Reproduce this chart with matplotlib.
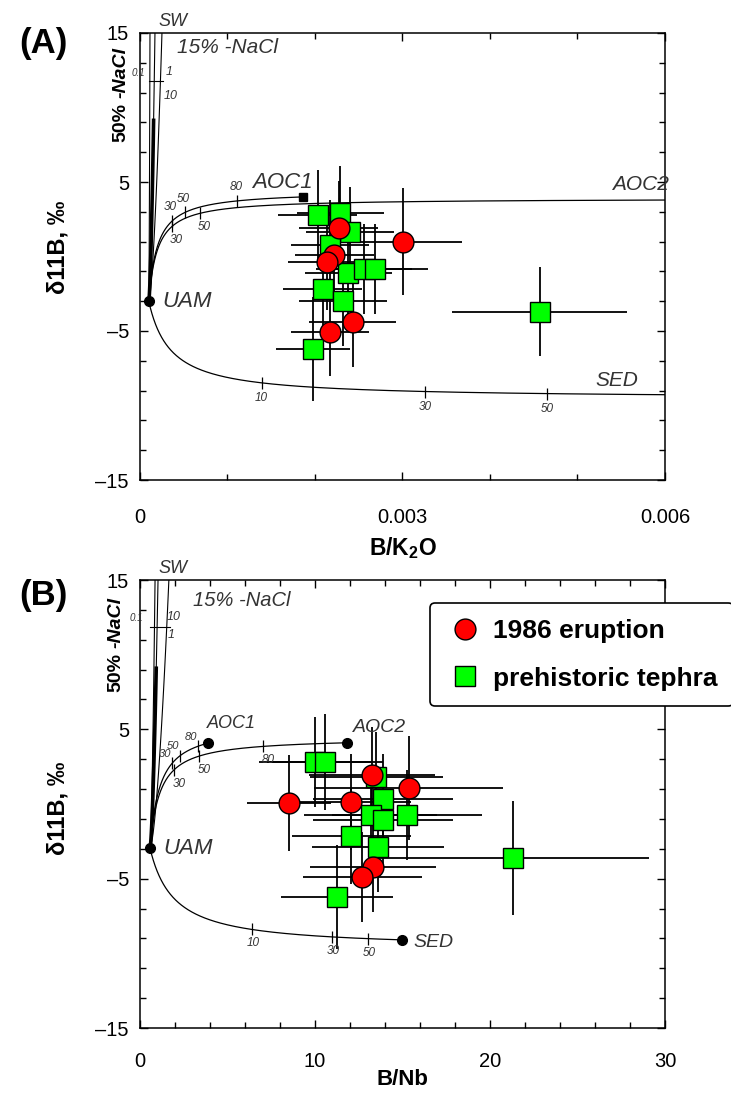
import numpy as np
import matplotlib
matplotlib.use('Agg')
from matplotlib import pyplot as plt
from matplotlib.ticker import FixedLocator, FixedFormatter

plt.rcParams['font.family'] = ['Liberation Sans', 'DejaVu Sans']
plt.rcParams['mathtext.fontset'] = 'custom'
plt.rcParams['mathtext.rm'] = 'Liberation Sans'
plt.rcParams['xtick.direction'] = 'in'
plt.rcParams['ytick.direction'] = 'in'

# ---------------- data ----------------
# panel A : B/K2O
eru_x_a = [0.00227, 0.00301, 0.00222, 0.00214, 0.00243, 0.00217]
eru_y_a = [1.9, 1.0, 0.1, -0.4, -4.4, -5.05]
eru_xe_a = [0.00045, 0.00067, 0.00045, 0.00045, 0.0005, 0.00045]
eru_ye_a = [3.2, 3.6, 3.2, 3.2, 3.0, 3.0]

pre_x_a = [0.00203, 0.00229, 0.0024, 0.00217, 0.00238, 0.00256, 0.00269,
           0.00209, 0.00232, 0.00198, 0.00457]
pre_y_a = [2.8, 2.9, 1.65, 0.8, -1.1, -0.85, -0.85, -2.2, -3.0, -6.2, -3.7]
pre_xe_a = [0.00045, 0.0005, 0.0005, 0.00045, 0.0005, 0.00055, 0.0006,
            0.00045, 0.0005, 0.00042, 0.001]
pre_ye_a = [3.0, 3.2, 3.0, 3.0, 3.0, 3.0, 3.0, 3.2, 3.0, 3.5, 3.0]

# end-members panel A (x, d11B)
uam_a = (0.0001, -3.0)
aoc1_a = (0.00186, 4.0)
aoc2_a = (0.0066, 3.8)
sed_a = (0.0066, -9.3)
sed_shift_a = 0.00015
fluid_top_a = [0.000114, 0.000171, 0.000251]
aoc1_tx_a = [0.000366, 0.000514, 0.00111]
aoc2_tx_a = [0.000366, 0.000686, 0.00227]
sed_tx_a = [0.00139, 0.00326, 0.00465]

# panel B : B/Nb
eru_x_b = [13.26, 15.37, 12.06, 8.51, 13.31, 12.69]
eru_y_b = [1.94, 1.07, 0.13, 0.06, -4.22, -4.89]
eru_xe_b = [3.6, 5.4, 3.4, 2.4, 3.6, 3.4]
eru_ye_b = [3.2, 3.5, 3.2, 3.2, 3.0, 3.0]

pre_x_b = [10.0, 10.57, 13.49, 13.89, 13.2, 13.89, 15.26, 12.06, 13.6, 11.26, 21.3]
pre_y_b = [2.8, 2.8, 1.8, 0.33, -0.74, -1.07, -0.74, -2.15, -2.88, -6.23, -3.62]
pre_xe_b = [3.2, 3.3, 3.8, 4.0, 3.8, 4.0, 4.3, 3.4, 3.8, 3.2, 7.8]
pre_ye_b = [3.0, 3.2, 3.0, 3.0, 3.0, 3.0, 3.0, 3.2, 3.0, 3.5, 3.8]

uam_b = (0.57, -2.95)
aoc1_b = (3.9, 4.08)
aoc2_b = (11.8, 4.1)
sed_b = (15.0, -9.1)
sed_shift_b = 0.8
fluid_top_b = [0.86, 1.03, 1.65]
aoc1_tx_b = [1.83, 2.29, 3.31]
aoc2_tx_b = [1.94, 3.37, 7.03]
sed_tx_b = [6.4, 10.97, 13.03]

aoc_labels = ['30', '50', '80']
sed_labels = ['10', '30', '50']

GREY = '#333333'


def mix(p, q, s=0.0, n=400):
    # mixing hyperbola between two end-members: d11B linear in 1/(x+s)
    c = (p[1] - q[1]) / (1.0 / (p[0] + s) - 1.0 / (q[0] + s))
    a = q[1] - c / (q[0] + s)
    x = np.geomspace(p[0], q[0], n)
    return x, a + c / (x + s), (a, c, s)


def curve_ticks(ax, coef, xs, labels, dx, dy, fs=8.5):
    a, c, s = coef
    xs = np.array(xs)
    ys = a + c / (xs + s)
    ax.plot(xs, ys, ls='none', marker='|', ms=8, mew=0.9, color='k', zorder=1)
    for x, y, t in zip(xs, ys, labels):
        ax.annotate(t, (x, y), xytext=(dx, dy), textcoords='offset points',
                    ha='center', va='center', fontsize=fs, style='italic', color=GREY)


def setup(ax, xmax, xmajor, xminor, xlabels, xpad):
    ax.set_xlim(0, xmax)
    ax.set_ylim(-15, 15)
    ax.xaxis.set_major_locator(FixedLocator(xmajor))
    ax.xaxis.set_major_formatter(FixedFormatter(xlabels))
    ax.xaxis.set_minor_locator(FixedLocator(xminor))
    ax.yaxis.set_major_locator(FixedLocator([-15, -5, 5, 15]))
    ax.yaxis.set_major_formatter(FixedFormatter(['\u201315', '\u20135', '5', '15']))
    ax.yaxis.set_minor_locator(FixedLocator(np.arange(-15, 16, 2)))
    ax.tick_params(which='both', top=True, right=True, width=1.0)
    ax.tick_params(which='major', length=6, labelsize=14.5)
    ax.tick_params(which='minor', length=4)
    ax.tick_params(axis='x', pad=xpad)
    ax.tick_params(axis='y', pad=8)
    for sp in ax.spines.values():
        sp.set_linewidth(1.1)
    ax.set_ylabel('\u03b411B, \u2030', fontsize=17, fontweight='bold')


def data(ax, ex, ey, exe, eye, px, py, pxe, pye):
    ax.errorbar(px, py, xerr=pxe, yerr=pye, fmt='none', ecolor='k', elinewidth=1.3, zorder=2)
    ax.errorbar(ex, ey, xerr=exe, yerr=eye, fmt='none', ecolor='k', elinewidth=1.3, zorder=2)
    h2, = ax.plot(px, py, 's', ms=15, mfc='#00ff00', mec='k', mew=1.0, ls='none', zorder=3,
                  label='prehistoric tephra')
    h1, = ax.plot(ex, ey, 'o', ms=15, mfc='#ff0000', mec='k', mew=1.0, ls='none', zorder=4,
                  label='1986 eruption')
    return h1, h2


def fluids(ax, uam, tops, thick_top, ytick):
    for i, xt in enumerate(tops):
        x = np.linspace(uam[0], xt * 1.02, 60)
        t = (x - uam[0]) / (xt - uam[0])
        y = uam[1] + (15 - uam[1]) * t ** 1.6
        ax.plot(x, y, color='k', lw=0.8, zorder=1)
        if i == 1:
            m = y <= thick_top
            ax.plot(x[m], y[m], color='k', lw=2.6, zorder=1)
    ax.plot([uam[0] * 0.98, tops[2] * 1.05], [ytick, ytick], color='k', lw=0.8, zorder=1)


fig = plt.figure(figsize=(7.31, 10.95), dpi=100)
axA = fig.add_axes([140 / 731, 1 - 480 / 1095, 525 / 731, 447 / 1095])
axB = fig.add_axes([140 / 731, 1 - 1028 / 1095, 525 / 731, 448 / 1095])

# ---------------- panel A ----------------
setup(axA, 0.006, [0, 0.003, 0.006], np.arange(0, 0.0061, 0.001), ['0', '0.003', '0.006'], 20)
axA.set_xlabel(r'B/K$_\mathregular{2}$O', fontsize=16.5, fontweight='bold', labelpad=6)
axA.yaxis.set_label_coords(-0.135, 0.52)

for em in (aoc1_a, aoc2_a):
    x, y, _ = mix(uam_a, em)
    axA.plot(x, y, color='k', lw=0.9, zorder=1)
x, y, sed_coef_a = mix(uam_a, sed_a, sed_shift_a)
axA.plot(x, y, color='k', lw=0.9, zorder=1)
fluids(axA, uam_a, fluid_top_a, 9.5, 11.8)
curve_ticks(axA, mix(uam_a, aoc1_a)[2], aoc1_tx_a, aoc_labels, -1, 10)
curve_ticks(axA, mix(uam_a, aoc2_a)[2], aoc2_tx_a, aoc_labels, 3, -10)
curve_ticks(axA, sed_coef_a, sed_tx_a, sed_labels, 0, -11)
axA.plot(*uam_a, 'o', color='k', ms=7, zorder=2)
axA.plot(*aoc1_a, 's', color='k', ms=6, zorder=2)

data(axA, eru_x_a, eru_y_a, eru_xe_a, eru_ye_a, pre_x_a, pre_y_a, pre_xe_a, pre_ye_a)

lab = dict(style='italic', color=GREY, va='center')
axA.text(0.00128, 5.0, 'AOC1', fontsize=16, **lab)
axA.text(0.00605, 4.8, 'AOC2', fontsize=15, ha='right', clip_on=False, **lab)
axA.text(0.00520, -8.3, 'SED', fontsize=15, **lab)
axA.text(0.00025, -3.05, 'UAM', fontsize=16, **lab)
axA.text(0.00038, 15.75, 'SW', fontsize=13, ha='center', clip_on=False, **lab)
axA.text(0.00100, 14.0, '15% -NaCl', fontsize=15, ha='center', **lab)
small = dict(style='italic', color=GREY, va='center', ha='center')
axA.text(-0.00002, 12.3, '0.1', fontsize=7, clip_on=False, **small)
axA.text(0.00033, 12.4, '1', fontsize=9, **small)
axA.text(0.00035, 10.8, '10', fontsize=9, **small)

# ---------------- panel B ----------------
setup(axB, 30, [0, 10, 20, 30], np.arange(0, 31, 2), ['0', '10', '20', '30'], 17)
axB.set_xlabel('B/Nb', fontsize=16, fontweight='bold', labelpad=-1)
axB.yaxis.set_label_coords(-0.135, 0.49)

for em in (aoc1_b, aoc2_b):
    x, y, _ = mix(uam_b, em)
    axB.plot(x, y, color='k', lw=0.9, zorder=1)
x, y, sed_coef_b = mix(uam_b, sed_b, sed_shift_b)
axB.plot(x, y, color='k', lw=0.9, zorder=1)
fluids(axB, uam_b, fluid_top_b, 9.5, 11.85)
curve_ticks(axB, mix(uam_b, aoc1_b)[2], aoc1_tx_b, aoc_labels, -5, 7, fs=8)
curve_ticks(axB, mix(uam_b, aoc2_b)[2], aoc2_tx_b, aoc_labels, 4, -10)
curve_ticks(axB, sed_coef_b, sed_tx_b, sed_labels, 1, -10)
for em in (uam_b, aoc1_b, aoc2_b, sed_b):
    axB.plot(*em, 'o', color='k', ms=7, zorder=2)

h1, h2 = data(axB, eru_x_b, eru_y_b, eru_xe_b, eru_ye_b, pre_x_b, pre_y_b, pre_xe_b, pre_ye_b)

axB.text(3.83, 5.36, 'AOC1', fontsize=13, **lab)
axB.text(12.17, 5.15, 'AOC2', fontsize=14, **lab)
axB.text(1.31, -2.95, 'UAM', fontsize=16, **lab)
axB.text(15.6, -9.25, 'SED', fontsize=14, **lab)
axB.text(1.89, 15.8, 'SW', fontsize=13, ha='center', clip_on=False, **lab)
axB.text(5.8, 13.66, '15% -NaCl', fontsize=14.5, ha='center', **lab)
axB.text(-0.2, 12.45, '0.1', fontsize=7, clip_on=False, **small)
axB.text(1.95, 12.5, '10', fontsize=9, **small)
axB.text(1.8, 11.3, '1', fontsize=9, **small)

leg = axB.legend(handles=[h1, h2], loc='upper left', bbox_to_anchor=(430 / 731, 1 - 603 / 1095),
                 bbox_transform=fig.transFigure, borderaxespad=0, frameon=True, fancybox=True,
                 prop={'weight': 'bold', 'size': 19}, borderpad=0.6, handlelength=1.45,
                 handletextpad=0.35, labelspacing=0.9, framealpha=1)
leg.get_frame().set_edgecolor('k')
leg.get_frame().set_linewidth(1.2)

# panel letters and rotated labels
fig.text(43 / 731, 1 - 44 / 1095, '(A)', fontsize=25, fontweight='bold', ha='center', va='center')
fig.text(43 / 731, 1 - 595 / 1095, '(B)', fontsize=25, fontweight='bold', ha='center', va='center')
for xc, yc in ((121, 95), (116, 645)):
    fig.text(xc / 731, 1 - (yc + 28) / 1095, '50%', fontsize=14, fontweight='bold',
             rotation=90, ha='center', va='center')
    fig.text(xc / 731, 1 - (yc - 22) / 1095, '-NaCl', fontsize=14, fontweight='bold',
             style='italic', rotation=90, ha='center', va='center')

fig.savefig('out.png', dpi=100)
